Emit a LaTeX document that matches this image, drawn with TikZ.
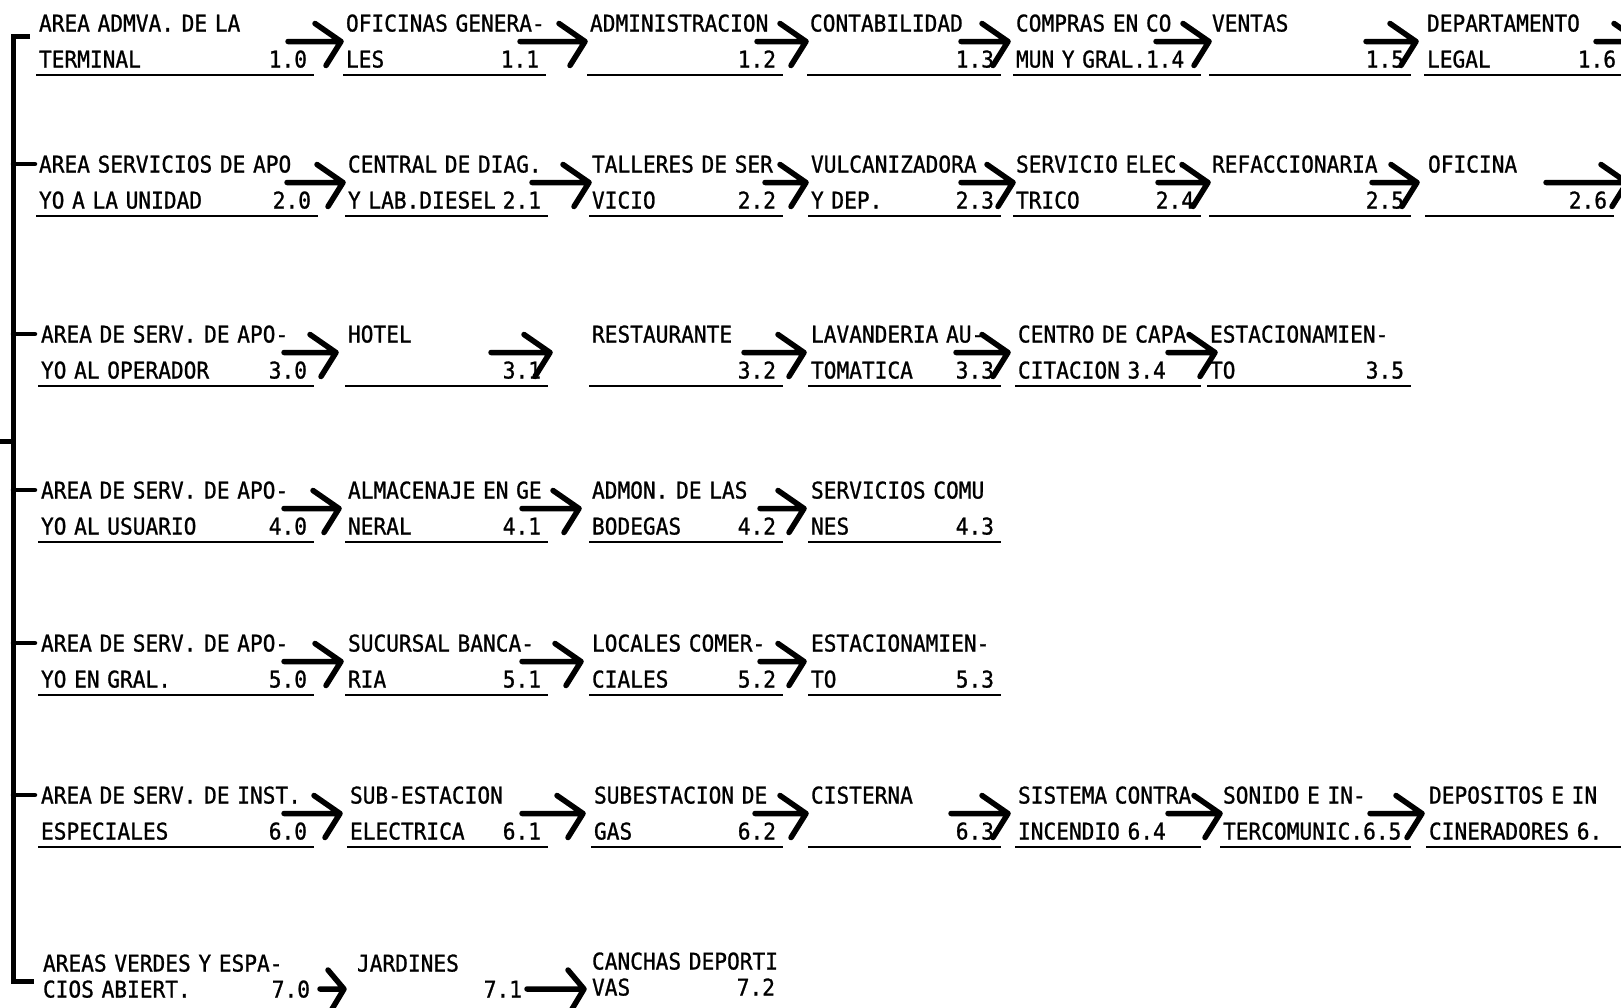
\documentclass[tikz,border=0pt]{standalone}
\usepackage{fontspec}
\newfontfamily\tw{DejaVu Sans Mono}[FakeStretch=0.92,FakeBold=1]
\newcommand{\numline}[2]{\hbox to \hsize{#1\hfill #2\hspace*{7pt}}}
\newcommand{\arrowlink}[5]{\draw[conn] ([shift={(#1,#5)}]#3.base east) to ([shift={(#2,#5)}]#4.base west);}
\newcommand{\ulbox}[1]{\draw[uline] ([shift={(-3,43)}]#1.base west) -- ([shift={(0,43)}]#1.base east);}
\begin{document}
\begin{tikzpicture}[x=1pt,y=-1pt,
  box/.style={anchor=base west, inner sep=0pt, outer sep=0pt, align=left,
    font=\tw\fontsize{23}{36}\selectfont},
  lastbox/.style={box, font=\tw\fontsize{23}{26}\selectfont},
  uline/.style={line width=2pt},
  bar/.style={line width=5pt},
  tick/.style={line width=4.5pt, line cap=round},
  conn/.style={line width=5.5pt, line cap=round, line join=round,
    to path={(\tikztostart) -- (\tikztotarget) (\tikztotarget) ++(-26,-18) -- (\tikztotarget) -- ++(-15,24)}},
  connlow/.style={line width=5.5pt, line cap=round, line join=round,
    to path={(\tikztostart) -- (\tikztotarget) (\tikztotarget) ++(-16,-19) -- (\tikztotarget) -- ++(-12,20)}},
]
\clip (0,0) rectangle (1621,1007);
\fill[white] (0,0) rectangle (1621,1007);

% ---------- row 1
\node[box, text width=275pt] (b10) at (39,31.5) {\mbox{AREA ADMVA. DE LA}\\\numline{TERMINAL}{1.0}};
\node[box, text width=200pt] (b11) at (346,31.5) {\mbox{OFICINAS GENERA-}\\\numline{LES}{1.1}};
\node[box, text width=193pt] (b12) at (590,31.5) {\mbox{ADMINISTRACION}\\\numline{}{1.2}};
\node[box, text width=191pt] (b13) at (810,31.5) {\mbox{CONTABILIDAD}\\\numline{}{1.3}};
\node[box, text width=185pt] (b14) at (1016,31.5) {\mbox{COMPRAS EN CO}\\\mbox{MUN Y GRAL.1.4}};
\node[box, text width=199pt] (b15) at (1212,31.5) {\mbox{VENTAS}\\\numline{}{1.5}};
\node[box, text width=196pt] (b16) at (1427,31.5) {\mbox{DEPARTAMENTO}\\\numline{LEGAL}{1.6}};
% ---------- row 2
\node[box, text width=279pt] (b20) at (39,172.5) {\mbox{AREA SERVICIOS DE APO}\\\numline{YO A LA UNIDAD}{2.0}};
\node[box, text width=200pt] (b21) at (348,172.5) {\mbox{CENTRAL DE DIAG.}\\\numline{Y LAB.DIESEL}{2.1}};
\node[box, text width=191pt] (b22) at (592,172.5) {\mbox{TALLERES DE SER}\\\numline{VICIO}{2.2}};
\node[box, text width=190pt] (b23) at (811,172.5) {\mbox{VULCANIZADORA}\\\numline{Y DEP.}{2.3}};
\node[box, text width=185pt] (b24) at (1016,172.5) {\mbox{SERVICIO ELEC-}\\\numline{TRICO}{2.4}};
\node[box, text width=199pt] (b25) at (1212,172.5) {\mbox{REFACCIONARIA}\\\numline{}{2.5}};
\node[box, text width=186pt] (b26) at (1428,172.5) {\mbox{OFICINA}\\\numline{}{2.6}};
% ---------- row 3
\node[box, text width=273pt] (b30) at (41,342.5) {\mbox{AREA DE SERV. DE APO-}\\\numline{YO AL OPERADOR}{3.0}};
\node[box, text width=200pt] (b31) at (348,342.5) {\mbox{HOTEL}\\\numline{}{3.1}};
\node[box, text width=191pt] (b32) at (592,342.5) {\mbox{RESTAURANTE}\\\numline{}{3.2}};
\node[box, text width=190pt] (b33) at (811,342.5) {\mbox{LAVANDERIA AU-}\\\numline{TOMATICA}{3.3}};
\node[box, text width=183pt] (b34) at (1018,342.5) {\mbox{CENTRO DE CAPA}\\\mbox{CITACION 3.4}};
\node[box, text width=201pt] (b35) at (1210,342.5) {\mbox{ESTACIONAMIEN-}\\\numline{TO}{3.5}};
% ---------- row 4
\node[box, text width=273pt] (b40) at (41,498.5) {\mbox{AREA DE SERV. DE APO-}\\\numline{YO AL USUARIO}{4.0}};
\node[box, text width=200pt] (b41) at (348,498.5) {\mbox{ALMACENAJE EN GE}\\\numline{NERAL}{4.1}};
\node[box, text width=191pt] (b42) at (592,498.5) {\mbox{ADMON. DE LAS}\\\numline{BODEGAS}{4.2}};
\node[box, text width=190pt] (b43) at (811,498.5) {\mbox{SERVICIOS COMU}\\\numline{NES}{4.3}};
% ---------- row 5
\node[box, text width=273pt] (b50) at (41,651.5) {\mbox{AREA DE SERV. DE APO-}\\\numline{YO EN GRAL.}{5.0}};
\node[box, text width=200pt] (b51) at (348,651.5) {\mbox{SUCURSAL BANCA-}\\\numline{RIA}{5.1}};
\node[box, text width=191pt] (b52) at (592,651.5) {\mbox{LOCALES COMER-}\\\numline{CIALES}{5.2}};
\node[box, text width=190pt] (b53) at (811,651.5) {\mbox{ESTACIONAMIEN-}\\\numline{TO}{5.3}};
% ---------- row 6
\node[box, text width=273pt] (b60) at (41,803.5) {\mbox{AREA DE SERV. DE INST.}\\\numline{ESPECIALES}{6.0}};
\node[box, text width=198pt] (b61) at (350,803.5) {\mbox{SUB-ESTACION}\\\numline{ELECTRICA}{6.1}};
\node[box, text width=189pt] (b62) at (594,803.5) {\mbox{SUBESTACION DE}\\\numline{GAS}{6.2}};
\node[box, text width=190pt] (b63) at (811,803.5) {\mbox{CISTERNA}\\\numline{}{6.3}};
\node[box, text width=183pt] (b64) at (1018,803.5) {\mbox{SISTEMA CONTRA}\\\mbox{INCENDIO 6.4}};
\node[box, text width=188pt] (b65) at (1223,803.5) {\mbox{SONIDO E IN-}\\\mbox{TERCOMUNIC.6.5}};
\node[box, text width=196pt] (b66) at (1429,803.5) {\mbox{DEPOSITOS E IN}\\\mbox{CINERADORES 6.}};
% ---------- row 7
\node[lastbox, text width=274pt] (b70) at (43,971.5) {\mbox{AREAS VERDES Y ESPA-}\\\numline{CIOS ABIERT.}{7.0}};
\node[lastbox, text width=172pt] (b71) at (357,971.5) {\mbox{JARDINES}\\\numline{}{7.1}};
\node[lastbox, text width=190pt] (b72) at (592,969.5) {\mbox{CANCHAS DEPORTI}\\\numline{VAS}{7.2}};

% ---------- underlines
\foreach \b in {b10,b11,b12,b13,b14,b15,b16,b20,b21,b22,b23,b24,b25,b26,
  b30,b31,b32,b33,b34,b35,b40,b41,b42,b43,b50,b51,b52,b53,
  b60,b61,b62,b63,b64,b65,b66} {\ulbox{\b}}

% ---------- left bracket
\coordinate (bt) at (13,36);
\coordinate (topend) at ([shift={(-9,1.5)}]b10.base west);
\coordinate (r2) at ([shift={(-4,-8.5)}]b20.base west);
\coordinate (r3) at ([shift={(-6,-8.5)}]b30.base west);
\coordinate (r4) at ([shift={(-6,-8.5)}]b40.base west);
\coordinate (r5) at ([shift={(-6,-8.5)}]b50.base west);
\coordinate (r6) at ([shift={(-6,-8.5)}]b60.base west);
\coordinate (r7) at ([shift={(-9,9.5)}]b70.base west);
\coordinate (stub) at (0,441);
\draw[bar] (bt -| topend) -- (bt) -- (bt |- r7) -- (r7);
\draw[bar] (stub) -- (bt |- stub);
\foreach \r in {r2,r3,r4,r5,r6} {\draw[tick] (bt |- \r) -- (\r);}

% ---------- connectors
\arrowlink{-26}{-5}{b10}{b11}{10}
\arrowlink{-26}{-5}{b11}{b12}{10}
\arrowlink{-26}{-4}{b12}{b13}{10}
\arrowlink{-40}{-8}{b13}{b14}{10}
\arrowlink{-45}{-3}{b14}{b15}{10}
\arrowlink{-45}{-11}{b15}{b16}{10}
\coordinate (tail1) at (1640,41.5);
\draw[conn] ([shift={(-27,10)}]b16.base east) to (tail1);

\arrowlink{-31}{-5}{b20}{b21}{10}
\arrowlink{-16}{-3}{b21}{b22}{10}
\arrowlink{-18}{-5}{b22}{b23}{10}
\arrowlink{-40}{-3}{b23}{b24}{10}
\arrowlink{-43}{-4}{b24}{b25}{10}
\arrowlink{-39}{-11}{b25}{b26}{10}
\coordinate (tail2) at (1627,182.5);
\draw[conn] ([shift={(-68,10)}]b26.base east) to (tail2);

\arrowlink{-30}{-12}{b30}{b31}{10}
\arrowlink{-57}{-42}{b31}{b32}{10}
\arrowlink{-39}{-7}{b32}{b33}{10}
\arrowlink{-45}{-10}{b33}{b34}{10}
\arrowlink{-33}{5}{b34}{b35}{10}

\arrowlink{-30}{-9}{b40}{b41}{10}
\arrowlink{-26}{-13}{b41}{b42}{10}
\arrowlink{-23}{-7}{b42}{b43}{10}

\arrowlink{-30}{-7}{b50}{b51}{10}
\arrowlink{-26}{-11}{b51}{b52}{10}
\arrowlink{-23}{-7}{b52}{b53}{10}

\arrowlink{-30}{-10}{b60}{b61}{10}
\arrowlink{-26}{-11}{b61}{b62}{10}
\arrowlink{-28}{-5}{b62}{b63}{10}
\arrowlink{-50}{-10}{b63}{b64}{10}
\arrowlink{-33}{-3}{b64}{b65}{10}
\arrowlink{-41}{-7}{b65}{b66}{10}

\draw[connlow] ([shift={(3,17.5)}]b70.base east) to ([shift={(-13,17.5)}]b71.base west);
\draw[connlow] ([shift={(-2,17.5)}]b71.base east) to ([shift={(-8,19.5)}]b72.base west);
\end{tikzpicture}
\end{document}
